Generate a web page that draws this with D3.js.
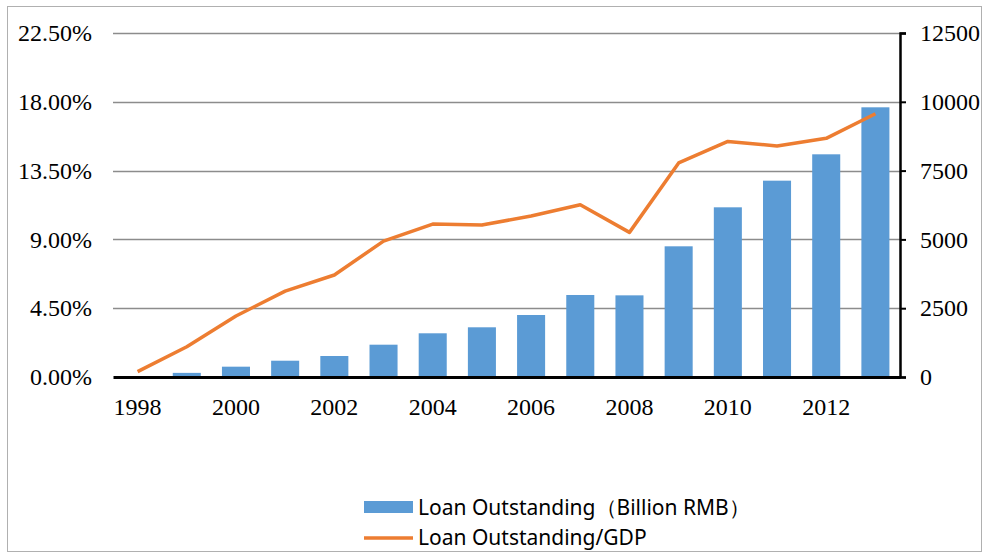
<!DOCTYPE html>
<html>
<head>
<meta charset="utf-8">
<script src="https://cdn.jsdelivr.net/npm/d3@7"></script>
<style>
  html, body { margin: 0; padding: 0; background: #fff; }
  svg { display: block; }
</style>
</head>
<body>
<svg id="chart" width="988" height="554"></svg>
<script>
// Years on the category axis
const years = [1998, 1999, 2000, 2001, 2002, 2003, 2004, 2005, 2006, 2007, 2008, 2009, 2010, 2011, 2012, 2013];
// Loan outstanding, billion RMB (right axis, bars)
const loanOutstanding = [10, 150, 375, 592, 763, 1174, 1588, 1806, 2253, 2980, 2967, 4749, 6166, 7134, 8092, 9800];
// Loan outstanding / GDP, percent (left axis, line)
const loanToGdp = [0.35, 1.98, 3.99, 5.62, 6.67, 8.89, 10.0, 9.94, 10.53, 11.27, 9.46, 14.0, 15.41, 15.11, 15.61, 17.22];
// Tick values
const leftTicks = [0, 4.5, 9, 13.5, 18, 22.5];
const rightTicks = [0, 2500, 5000, 7500, 10000, 12500];
const yearLabels = [1998, 2000, 2002, 2004, 2006, 2008, 2010, 2012];
const seriesNames = ["Loan Outstanding（Billion RMB）", "Loan Outstanding/GDP"];

const barColor = "#5B9BD5";
const lineColor = "#ED7D31";
const gridColor = "#8c8c8c";
const serif = "'Liberation Serif', 'Times New Roman', serif";
const sans = "'Noto Sans', 'Liberation Sans', sans-serif";
const tickFontSize = 24;

const svg = d3.select("#chart");

// Outer frame
svg.append("rect")
  .attr("x", 7.5).attr("y", 6.5).attr("width", 974).attr("height", 545)
  .attr("fill", "#fff").attr("stroke", "#b0b0b0").attr("stroke-width", 1);

const plot = { left: 113, right: 900, top: 33, bottom: 377 };

const x = d3.scaleBand().domain(years).range([plot.left, plot.right]).paddingInner(0.43).paddingOuter(0.215);
const xc = d3.scaleBand().domain(years).range([plot.left, plot.right]);
const yLeft = d3.scaleLinear().domain([0, 22.5]).range([plot.bottom, plot.top]);
const yRight = d3.scaleLinear().domain([0, 12500]).range([plot.bottom, plot.top]);

// Gridlines
svg.append("g").selectAll("line").data(leftTicks.slice(1)).join("line")
  .attr("x1", plot.left).attr("x2", plot.right)
  .attr("y1", d => Math.round(yLeft(d)) + 0.5).attr("y2", d => Math.round(yLeft(d)) + 0.5)
  .attr("stroke", gridColor).attr("stroke-width", 1.5);

// Bars
svg.append("g").selectAll("rect").data(years).join("rect")
  .attr("x", d => x(d))
  .attr("width", x.bandwidth())
  .attr("y", (d, i) => yRight(loanOutstanding[i]))
  .attr("height", (d, i) => plot.bottom - yRight(loanOutstanding[i]))
  .attr("fill", barColor);

// Line
const line = d3.line()
  .x((d, i) => xc(years[i]) + xc.bandwidth() / 2)
  .y(d => yLeft(d));
svg.append("path").datum(loanToGdp)
  .attr("d", line)
  .attr("fill", "none")
  .attr("stroke", lineColor)
  .attr("stroke-width", 3.5)
  .attr("stroke-linejoin", "round");

// Left axis (labels only)
const leftAxis = d3.axisLeft(yLeft).tickValues(leftTicks).tickSize(0).tickPadding(21)
  .tickFormat(d => d.toFixed(2) + "%");
const gl = svg.append("g").attr("transform", `translate(${plot.left},0)`).call(leftAxis);
gl.select(".domain").remove();
gl.selectAll("text").attr("font-family", serif).attr("font-size", tickFontSize).attr("fill", "#000");

// Right axis
const rightAxis = d3.axisRight(yRight).tickValues(rightTicks).tickSize(6).tickPadding(14)
  .tickFormat(d3.format("d"));
const gr = svg.append("g").attr("transform", `translate(${plot.right},0)`).call(rightAxis);
gr.select(".domain").attr("stroke", "#000").attr("stroke-width", 2.5);
gr.selectAll(".tick line").attr("stroke", "#000").attr("stroke-width", 2);
gr.selectAll("text").attr("font-family", serif).attr("font-size", tickFontSize).attr("fill", "#000");

// Bottom axis
const bottomAxis = d3.axisBottom(xc).tickValues(yearLabels).tickSize(0).tickPadding(21);
const gb = svg.append("g").attr("transform", `translate(0,${plot.bottom})`).call(bottomAxis);
gb.select(".domain").attr("stroke", "#000").attr("stroke-width", 3);
gb.selectAll("text").attr("font-family", serif).attr("font-size", tickFontSize).attr("fill", "#000");

// Legend
const legend = svg.append("g");
legend.append("rect").attr("x", 364).attr("y", 501).attr("width", 49).attr("height", 12).attr("fill", barColor);
legend.append("line").attr("x1", 364).attr("x2", 413).attr("y1", 538).attr("y2", 538)
  .attr("stroke", lineColor).attr("stroke-width", 3.5);
legend.selectAll("text").data(seriesNames).join("text")
  .attr("x", 418)
  .attr("y", (d, i) => 515 + i * 30)
  .attr("font-family", sans)
  .attr("font-size", 21)
  .attr("fill", "#000")
  .text(d => d);
</script>
</body>
</html>
